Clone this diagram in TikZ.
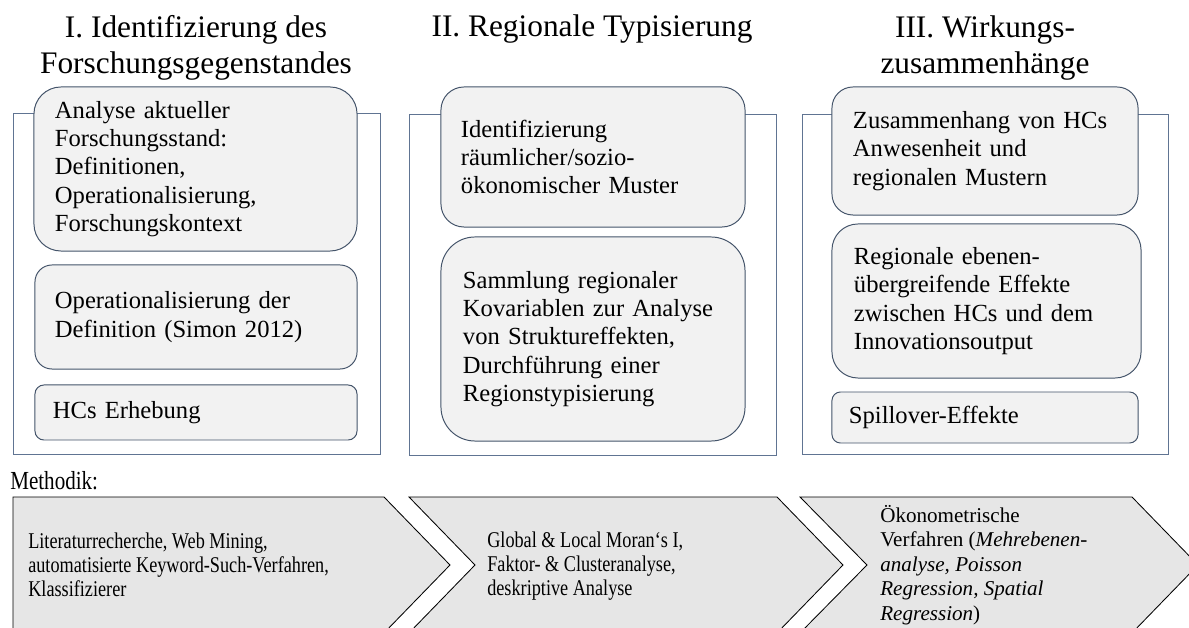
\documentclass[tikz,border=0pt]{standalone}
\usepackage{fontspec}
\setmainfont{Liberation Serif}
\newfontfamily\condfont{Liberation Serif}[FakeStretch=0.81]
\definecolor{framecol}{RGB}{96,116,146}
\definecolor{boxline}{RGB}{68,84,106}
\definecolor{boxfill}{RGB}{242,242,242}
\definecolor{arrowfill}{RGB}{230,230,230}
\tikzset{
  colframe/.style={draw=framecol, line width=0.6pt},
  stepbox/.style={draw=boxline, fill=boxfill, line width=0.7pt, align=left, inner ysep=0pt, font=\fontsize{17.5}{20.2}\selectfont},
  coltitle/.style={align=center, inner sep=0pt, font=\fontsize{22.3}{25.6}\selectfont},
  chevron/.style={draw=black, fill=arrowfill, line width=0.6pt, line join=miter},
  chevtext/.style={anchor=west, align=left, inner sep=0pt, font=\condfont\fontsize{16}{17.2}\selectfont},
}
\begin{document}
\begin{tikzpicture}[x=0.025cm, y=-0.025cm]
\useasboundingbox (0,0) rectangle (1189,628);
\node[coltitle] (titleone) at (196,48) {I. Identifizierung des\\Forschungsgegenstandes};
\node[coltitle, anchor=base] (titletwo) at (592,37) {II. Regionale Typisierung};
\node[coltitle] (titlethree) at (985,48) {III. Wirkungs-\\zusammenhänge};
\draw[colframe] (13,113) rectangle (380,454);
\draw[colframe] (409,114) rectangle (776,455);
\draw[colframe] (802,114) rectangle (1168,454);
\node[stepbox, rounded corners=0.675cm, inner xsep=0.525cm, text width=7.025cm, minimum height=4.1cm] (boxonea) at (195.5,169) {Analyse aktueller\\Forschungsstand:\\Definitionen,\\Operationalisierung,\\Forschungskontext};
\node[stepbox, rounded corners=0.425cm, inner xsep=0.5cm, text width=7.05cm, minimum height=2.6cm] (boxoneb) at (196,317) {Operationalisierung der\\Definition (Simon 2012)};
\node[stepbox, rounded corners=0.225cm, inner xsep=0.45cm, text width=7.15cm, minimum height=1.375cm] (boxonec) at (196,412.5) {HCs Erhebung};
\node[stepbox, rounded corners=0.575cm, inner xsep=0.5cm, text width=6.6cm, minimum height=3.5cm] (boxtwoa) at (593,157) {Identifizierung\\räumlicher/sozio-\\ökonomischer Muster};
\node[stepbox, rounded corners=0.85cm, inner xsep=0.55cm, text width=6.5cm, minimum height=5.1cm] (boxtwob) at (593,339) {Sammlung regionaler\\Kovariablen zur Analyse\\von Struktureffekten,\\Durchführung einer\\Regionstypisierung};
\node[stepbox, rounded corners=0.525cm, inner xsep=0.525cm, text width=6.6cm, minimum height=3.2cm] (boxthreea) at (985,151) {Zusammenhang von HCs\\Anwesenheit und\\regionalen Mustern};
\node[stepbox, rounded corners=0.65cm, inner xsep=0.55cm, text width=6.625cm, minimum height=3.85cm] (boxthreeb) at (986.5,301) {Regionale ebenen-\\übergreifende Effekte\\zwischen HCs und dem\\Innovationsoutput};
\node[stepbox, rounded corners=0.2125cm, inner xsep=0.425cm, text width=6.8cm, minimum height=1.275cm] (boxthreec) at (985,417.5) {Spillover-Effekte};
\node[anchor=base west, inner sep=0pt, font=\condfont\fontsize{18.5}{20}\selectfont] (methodik) at (10,490) {Methodik:};
\draw[chevron] (13,497) -- (384,497) -- (450,565) -- (384,633) -- (13,633) -- cycle;
\draw[chevron] (409,497) -- (777,497) -- (843,565) -- (777,633) -- (409,633) -- (475,565) -- cycle;
\draw[chevron] (800,497) -- (1132,497) -- (1198,565) -- (1132,633) -- (800,633) -- (867,565) -- cycle;
\node[chevtext] (methone) at (28,565) {Literaturrecherche, Web Mining,\\automatisierte Keyword-Such-Verfahren,\\Klassifizierer};
\node[chevtext] (methtwo) at (487,566) {Global \& Local Moran‘s I,\\Faktor- \& Clusteranalyse,\\deskriptive Analyse};
\node[chevtext, font=\fontsize{15}{17.5}\selectfont] (meththree) at (880,565) {Ökonometrische\\Verfahren (\textit{Mehrebenen-}\\\textit{analyse, Poisson}\\\textit{Regression, Spatial}\\\textit{Regression})};
\end{tikzpicture}
\end{document}
